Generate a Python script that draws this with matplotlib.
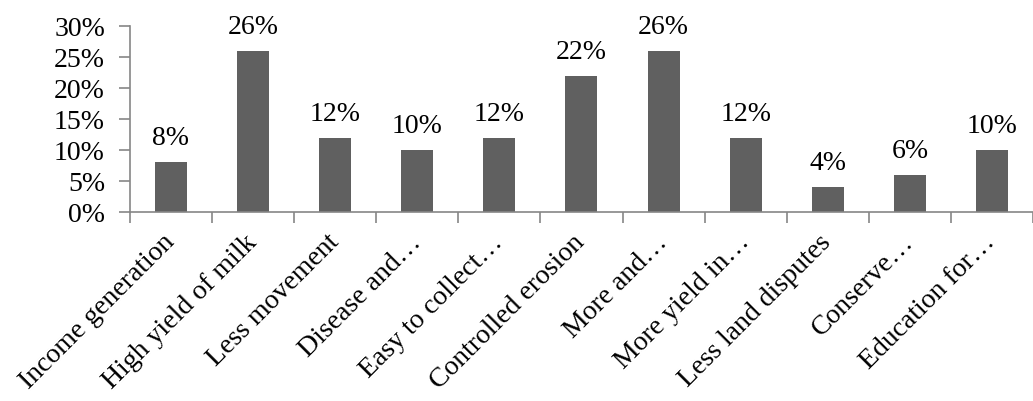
import matplotlib.pyplot as plt
from matplotlib.ticker import FuncFormatter, MultipleLocator
from matplotlib.transforms import ScaledTranslation

plt.rcParams["font.family"] = ["Liberation Serif", "DejaVu Serif"]

# benefits reported by respondents (share of respondents)
categories = [
    "Income generation",
    "High yield of milk",
    "Less movement",
    "Disease and\u2026",
    "Easy to collect\u2026",
    "Controlled erosion",
    "More and\u2026",
    "More yield in\u2026",
    "Less land disputes",
    "Conserve\u2026",
    "Education for\u2026",
]
shares = [0.08, 0.26, 0.12, 0.10, 0.12, 0.22, 0.26, 0.12, 0.04, 0.06, 0.10]

bar_color = "#606060"
axis_color = "#868686"
fs = 20

fig = plt.figure(figsize=(10.33, 4.01), dpi=100)
ax = fig.add_axes([0.1258, 0.4713, 0.8742, 0.4638])

x = range(len(categories))
bars = ax.bar(x, shares, width=0.39, color=bar_color)

for b, v in zip(bars, shares):
    ax.annotate(f"{v * 100:.0f}%", (b.get_x() + b.get_width() / 2, v),
                xytext=(0, 8), textcoords="offset points",
                ha="center", va="bottom", fontsize=fs)

ax.set_xlim(-0.5, len(categories) - 0.5)
ax.set_ylim(0, 0.30)
ax.yaxis.set_major_locator(MultipleLocator(0.05))
ax.yaxis.set_major_formatter(FuncFormatter(lambda v, _: f"{v * 100:.0f}%"))

for side in ("top", "right"):
    ax.spines[side].set_visible(False)
for side in ("left", "bottom"):
    ax.spines[side].set_color(axis_color)
    ax.spines[side].set_linewidth(1.2)

# category ticks sit between the bars, labels under each bar
ax.set_xticks([i - 0.5 for i in range(len(categories) + 1)], minor=False)
ax.set_xticklabels([])
ax.set_xticks(list(x), minor=True)
ax.set_xticklabels(categories, minor=True, rotation=45, ha="right",
                   rotation_mode="anchor", fontsize=fs)
ax.tick_params(axis="x", which="major", direction="out", length=8,
               width=1.2, color=axis_color)
ax.tick_params(axis="x", which="minor", length=0, pad=13)
ax.tick_params(axis="y", direction="out", length=8, width=1.2,
               color=axis_color, labelsize=fs, pad=10)

# nudge the slanted labels a little to the left
nudge = ScaledTranslation(-0.09, 0, fig.dpi_scale_trans)
for lbl in ax.get_xticklabels(minor=True):
    lbl.set_transform(lbl.get_transform() + nudge)

fig.savefig("out.png", dpi=100)
